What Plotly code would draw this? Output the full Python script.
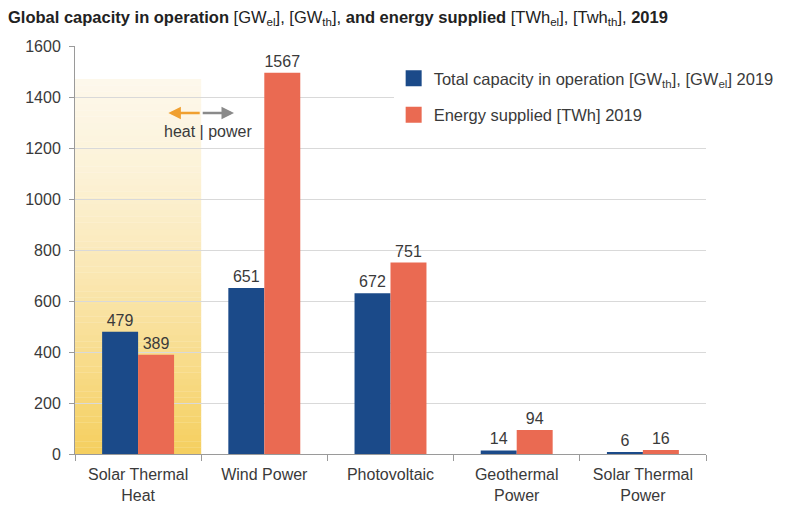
import plotly.graph_objects as go

categories = ["Solar Thermal<br>Heat", "Wind Power", "Photovoltaic", "Geothermal<br>Power", "Solar Thermal<br>Power"]
capacity_values = [479, 651, 630, 14, 6]
capacity_labels = ["479", "651", "672", "14", "6"]
energy_values = [389, 1495, 751, 94, 16]
energy_labels = ["389", "1567", "751", "94", "16"]
y_ticks = [0, 200, 400, 600, 800, 1000, 1200, 1400, 1600]

BLUE = "#1B4A89"
ORANGE = "#EA6A52"
TXT = "#3a3a3a"
FONT = "Liberation Sans"

positions = list(range(len(categories)))
boundaries = [p - 0.5 for p in positions] + [positions[-1] + 0.5]

fig = go.Figure()

fig.add_trace(go.Bar(
    x=positions, y=capacity_values, name="cap", showlegend=False,
    marker=dict(color=BLUE, line=dict(width=0)), text=capacity_labels, textposition="outside",
    textfont=dict(size=16, color=TXT, family=FONT), cliponaxis=False))
fig.add_trace(go.Bar(
    x=positions, y=energy_values, name="energy", showlegend=False,
    marker=dict(color=ORANGE, line=dict(width=0)), text=energy_labels, textposition="outside",
    textfont=dict(size=16, color=TXT, family=FONT), cliponaxis=False))

# legend entries with larger square symbols
fig.add_trace(go.Scatter(x=[None], y=[None], mode="markers",
                         marker=dict(symbol="square", size=16, color=BLUE),
                         name="Total capacity in operation [GW<sub>th</sub>], [GW<sub>el</sub>] 2019",
                         legendgroup="a"))
fig.add_trace(go.Scatter(x=[None], y=[None], mode="markers",
                         marker=dict(symbol="square", size=16, color=ORANGE),
                         name="Energy supplied [TWh] 2019", legendgroup="b"))

# heat region background: vertical gradient built from thin bands below gridlines
stops = [(0.0, (245, 207, 94)), (0.25, (248, 220, 140)), (0.5, (250, 232, 182)),
         (0.75, (252, 242, 215)), (1.0, (253, 248, 236))]
band_top = 1470
n = 60
for i in range(n):
    f = (i + 0.5) / n
    for (a, ca), (b, cb) in zip(stops[:-1], stops[1:]):
        if a <= f <= b:
            t = (f - a) / (b - a)
            c = tuple(round(ca[k] + (cb[k] - ca[k]) * t) for k in range(3))
            break
    fig.add_shape(type="rect", xref="x", yref="y", x0=-0.5, x1=0.5,
                  y0=band_top * i / n, y1=band_top * (i + 1) / n + 1,
                  fillcolor="rgb(%d,%d,%d)" % c, line=dict(width=0), layer="below")

fig.update_layout(
    width=785, height=497,
    margin=dict(l=67, r=87, t=38, b=51),
    paper_bgcolor="white", plot_bgcolor="rgba(0,0,0,0)",
    barmode="group", bargap=0.43, bargroupgap=0,
    font=dict(family=FONT, size=16, color=TXT),
    title=dict(
        text="<b>Global capacity in operation</b> [GW<sub>el</sub>], [GW<sub>th</sub>], <b>and energy supplied</b> [TWh<sub>el</sub>], [Twh<sub>th</sub>], <b>2019</b>",
        x=0.0, xanchor="left", y=0.982, yanchor="middle",
        font=dict(family=FONT, size=16.5, color="#222")),
    legend=dict(x=0.505, y=0.963, xanchor="left", yanchor="top", bgcolor="white",
                font=dict(size=16.5, color=TXT, family=FONT), tracegroupgap=12,
                itemwidth=30),
    xaxis=dict(range=[-0.5, 4.5], tickvals=positions, ticktext=categories, ticks="",
               showline=True, linecolor="#9a9a9a", linewidth=1, showgrid=False, zeroline=False,
               minor=dict(tickvals=boundaries, ticks="outside", ticklen=6, tickcolor="#9a9a9a", showgrid=False),
               automargin=False, ticklabelstandoff=6, tickfont=dict(size=16, color=TXT)),
    yaxis=dict(range=[0, 1600], tickvals=y_ticks, ticks="outside", ticklen=5,
               tickcolor="#9a9a9a", showline=True, linecolor="#9a9a9a", linewidth=1,
               showgrid=True, gridcolor="#d9d9d9", gridwidth=1, zeroline=False,
               automargin=False, ticklabelstandoff=5, tickfont=dict(size=16, color=TXT)),
)

# heat | power arrows
fig.add_annotation(x=0.24, y=1337, ax=0.5, ay=1337, xref="x", yref="y", axref="x", ayref="y",
                   text="", showarrow=True, arrowhead=2, arrowsize=1, arrowwidth=2.5, arrowcolor="#F0A030")
fig.add_annotation(x=0.76, y=1337, ax=0.5, ay=1337, xref="x", yref="y", axref="x", ayref="y",
                   text="", showarrow=True, arrowhead=2, arrowsize=1, arrowwidth=2.5, arrowcolor="#8a8a8a")
fig.add_annotation(x=0.55, y=1263, xref="x", yref="y", text="heat | power", showarrow=False,
                   font=dict(size=16, color=TXT, family=FONT))

fig.write_html("out.html")
